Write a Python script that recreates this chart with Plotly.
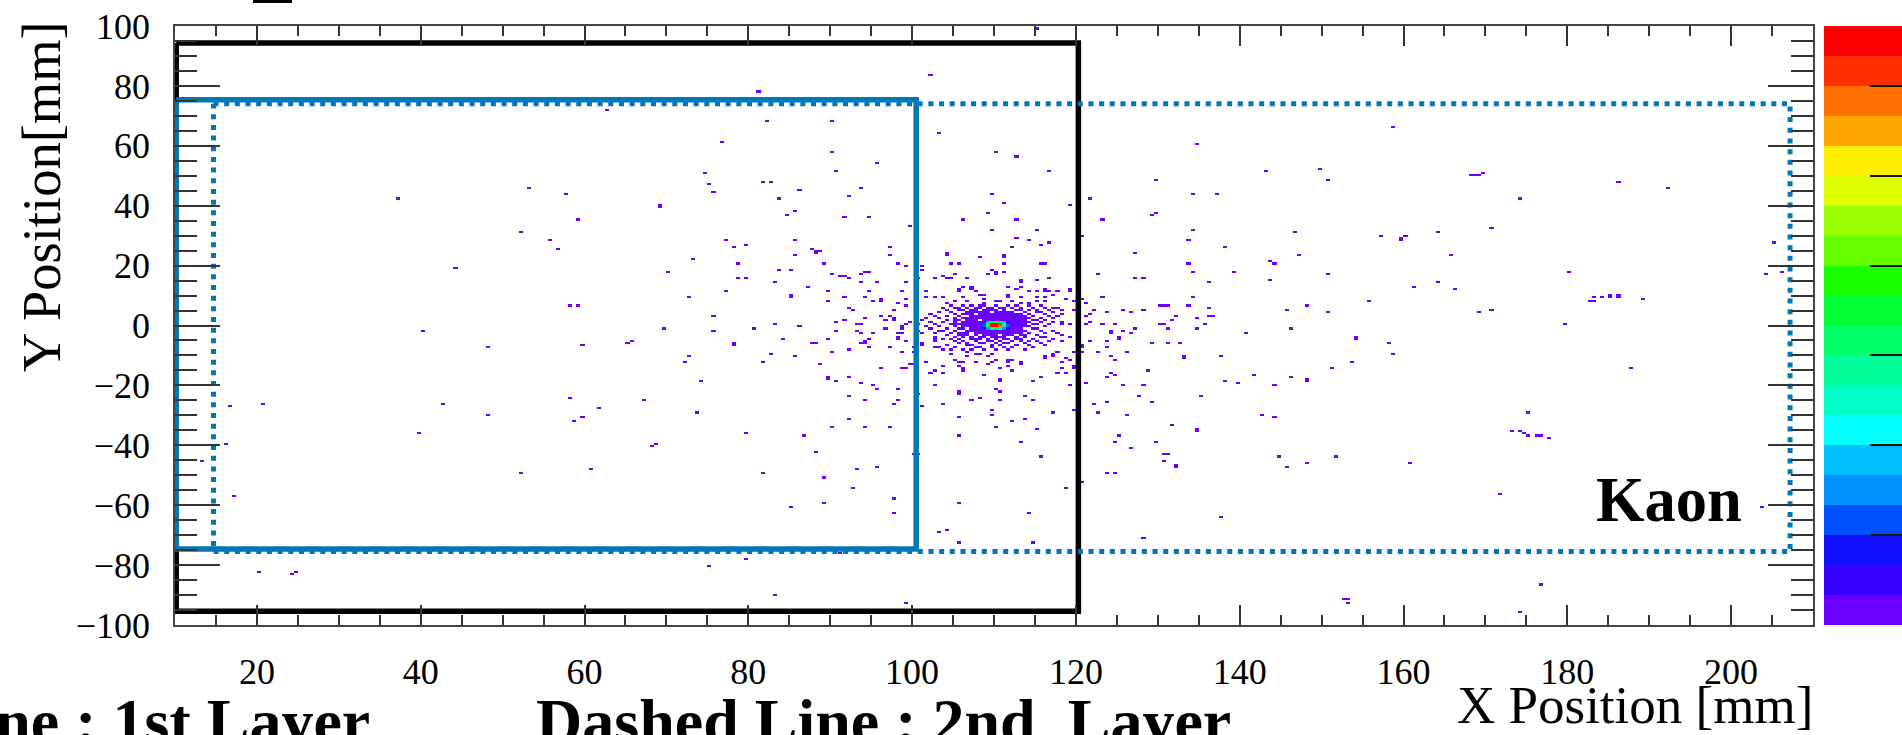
import numpy as np
import plotly.graph_objects as go

# ---- histogram binning and axes ----
x_edges_start, x_bin, x_count = 10.0, 0.5, 400
y_edges_start, y_bin, y_count = -100.0, 0.7, 286
x_ticks = [20, 40, 60, 80, 100, 120, 140, 160, 180, 200]
y_ticks = [-100, -80, -60, -40, -20, 0, 20, 40, 60, 80, 100]

# ---- single hits (x mm, y mm) ----
left_hits = [
 (62.7,71.6),(53.3,46.0),(57.7,44.1),(37.2,42.1),(69.2,40.0),(69.2,39.3),(59.3,35.3),(52.2,31.0),(55.7,28.7),(56.7,25.8),
 (73.2,22.3),(44.3,19.0),(70.2,18.0),(72.7,9.3),(58.2,6.4),(59.3,6.4),(81,78.4),(115.3,99),(102.2,83.7),
 (40.2,-1.7),(69.7,-0.9),(48.2,-7.6),(59.7,-6.6),(65.3,-5.6),(65.8,-5.1),(72.7,-10),(72.1,-12.4),(58.2,-24),(67.2,-24.4),
 (42.7,-26.4),(20.7,-25.9),(16.8,-26.9),(48.2,-29.8),(61.8,-27.3),(59.7,-30.2),(58.8,-31.8),(73.8,-29.3),(39.7,-36.1),
 (16.2,-39.5),(68.3,-39.9),(68.7,-39.5),(13.3,-44.8),(52.2,-49.6),(60.7,-48.1),(17.3,-56.8),(20.3,-82.4),(24.2,-82.9),(24.7,-82.4),
]
upper_mid_hits = [
 (82.2,68.1),(90.2,68.1),(103.2,64.4),(76.7,61.5),(90.2,58.0),(110.3,57.6),(112.8,56.1),(95.8,54.2),(90.7,51.8),(116.8,51.3),
 (74.7,50.9),(75.2,47.4),(81.7,48.3),(82.8,48.0),(129.7,48.9),(75.7,44.5),(86.3,45.5),(93.7,46),(83.7,42.1),(92.3,43.1),
 (109.8,44.1),(111.3,41.2),(121.8,42.7),(119.3,40.7),(85.8,38.3),(84.7,36.9),(91.8,36.3),(94.7,35.9),(109.2,37.8),(106.3,35.4),
 (112.8,35.4),(129.7,37.3),(129.3,36.9),(123.3,35.4),(99.7,33.4),(109.8,32),(115.2,32),(120.7,29.6),(77.3,28.6),(85.8,28.2),
 (112.8,29.1),(114.3,28.6),(78.2,26.3),(79.8,26.7),(87.7,25.7),(88.3,25),(88.3,24.3),(88.8,25),(97.2,26.6),(115.8,27.2),(116.8,27.6),
 (112.2,26.6),(133.7,28.6),(73.2,22.4),(85.8,23.3),(97.2,23.7),(104.3,24.1),(104.3,23.4),(108.3,22.8),(111.3,23.7),(111.3,22.8),
 (127.2,24.3),(78.7,21),(89.3,20.4),(98.3,21),(99.3,20),(101.2,20),(104.8,20.4),(105.7,20.4),(111.3,20.4),(115.8,21),(116.3,21),
 (133.7,20.4),(83.7,18.9),(85.3,18.9),(101.2,18.5),(109.8,18.9),(94.3,18),(94.8,18),(90.2,17.5),(91.3,16.6),(91.8,16.6),(93.7,17.1),
 (109.2,17.5),(110.3,17.8),(110.3,17.1),(111.3,18),(122.8,17.5),(78.7,16.1),(79.8,15.6),(92.3,15.6),(93.7,14.6),(100.8,16),
 (103.8,16.6),(105.2,17.5),(102.7,15.6),(104.3,15.6),(104.8,15.6),(106.7,15.6),(113.3,15.3),(113.3,14.6),(115.2,15.2),(116.8,16),
 (127.2,16),(128.3,15.6),(83.3,14.2),(87.2,13.2),(95.8,14.2),(99.3,14.2),(77.3,11.7),(85.3,10.5),(85.3,9.8),(89.7,11.3),(91.8,9.8),
 (94.2,9.8),(94.7,11.3),(98.8,11.7),(96.2,9),(96.2,8.3),(99.3,8.8),(72.9,9.4),(89.7,8.4),(95.3,7.8),(98.3,7.4),(99.3,6.9),
 (92.3,5.9),(92.7,5.5),(97.8,5.5),(75.7,3),(96.2,3.5),(97.2,3.5),(97.7,2.8),(97.7,2.1),(96.7,2),(94.2,2.6),(91.8,2),(90.7,1.1),
 (93.2,0.6),(93.7,0.6),(83.3,0.6),(99.7,1.1),(99.3,0.6),(98.8,-0.5),(98.8,-1.2),(86.3,-0.4),(80.7,-0.9),(96.7,-0.9),
 (106.3,13.2),(107.3,13),(107.3,12.3),(105.7,12.5),(105.7,11.8),(107.9,11.3),(108.3,10.5),(108.8,10.5),(108.5,9),(111.7,10.5),(111.7,9.8),
 (111.7,13.2),(113.3,13.2),(112.8,12.3),(116.3,12.6),(119.3,12.2),(119.3,11.3),(114.3,11.3),(115.2,11.3),(116.3,11.3),(116.6,11.3),
 (117.7,11.3),(117.2,10.5),(115.2,9.8),(116.3,9.8),(113.3,9.8),(101.8,11.7),(102.7,9.4),(101.8,9.4),(103.8,9.8),(106.3,9.8),
 (118.8,8.8),(119.8,8.4),(123.3,9.8),(121.2,7.4),(120.7,8.6),(104.3,7.4),(105.2,7.8),(106.7,8.4),(108.7,7.5),(110.3,7.8),(110.8,8.4),
 (112.2,7.8),(113.3,7.4),(114.3,7.6),(115.2,8.4),(116.3,8.4),(122.3,5.5),(123.7,4.9),(125.8,5.5),(126.7,4.9),(128.3,5.5),(130.3,6.4),
 (130.8,6.4),(131.3,6.4),(133.7,6.9),(132.3,3.5),(131.8,1.6),(130.3,0.6),(130.8,0.6),(131.3,-0.9),(127.2,-1.3),(124.7,0.1),(123.3,0.6),
 (121.8,1.1),(121.8,3.9),(121.2,3),(121.3,0.1),(117.7,5.9),(117.7,3),(118.3,1),(118.3,0.3),(119.3,0.6),(119.8,5.3),
]
lower_mid_hits = [
 (75.7,-1.7),(90.7,-1.7),(93.2,-1.7),(93.7,-2.7),(95.3,-2.7),(98.3,-2.7),(98.8,-2.7),(98.3,-3.8),(98.3,-4.5),(78.2,-5.9),(78.2,-6.6),
 (84.2,-4.7),(87.7,-5.6),(88.2,-5.6),(89.7,-4.7),(94.8,-4.7),(94.2,-5.2),(93.8,-6.1),(94.3,-6.1),(99.3,-5.2),(92.3,-8.1),(90.2,-8.5),
 (94.8,-7.5),(97.2,-7.5),(98.8,-9),(100.2,-7.2),(100.2,-8.5),(82.7,-9.5),(85.8,-10),(72.9,-10),(81.7,-12.4),(88.8,-12.9),(99.5,-12.9),
 (100,-12.9),(98.7,-13.9),(99.2,-13.9),(96.2,-14.3),(89.7,-17),(89.7,-17.7),(92.3,-16.8),(74.3,-18.7),(90.7,-18.7),(93.7,-19.1),
 (95.3,-20.1),(95.8,-21.5),(98.3,-21.1),(92.3,-23.4),(94.2,-25),(98.3,-25),(97.8,-25.9),(73.8,-29.3),(92.3,-31.2),(90.2,-34.1),
 (94.2,-34.1),(97.2,-34.1),(79.8,-36.1),(86.8,-36.6),(88.3,-42.4),(93.2,-48.1),(95.8,-47.1),(81.7,-49.6),(89.3,-51),(92.7,-53.9),
 (89.3,-58.8),(97.8,-57.8),(85.3,-60.2),(97.8,-62.5),(100.3,-42.8),(100.8,-42.8),(101.3,-2.7),(101.3,-5.9),(101.3,-6.6),(103.2,-2),
 (104,-3.1),(103.8,-4.7),(102.8,-4.7),(102.8,-5.4),(102.7,-7.2),(103.2,-7.5),(103.8,-8.1),(104.8,-9.5),(106.7,-10),(107.8,-9.5),
 (108.3,-9.5),(109.7,-9.4),(109.1,-10),(106.8,-9),(105.4,-11.4),(105.8,-11.9),(106.3,-11.9),(107.8,-12.4),(109.2,-12.9),(109.7,-11.9),
 (110.3,-11.4),(111.7,-11.6),(111.7,-12.3),(112.2,-11.4),(113.3,-12.6),(113.3,-11.9),(116.3,-10),(116.3,-11),(117.7,-8.5),(117.2,-9.2),
 (117.2,-9.9),(118.8,-11),(119.3,-11.4),(118.3,-12.4),(118.3,-14.3),(117.7,-15.8),(118.8,-15.8),(119.8,-13.4),(119.8,-14.3),(101.8,-12.4),
 (103.8,-13.4),(105.7,-13.4),(106.3,-13.9),(106.3,-14.8),(102.7,-14.8),(102.3,-15.8),(103.8,-15.8),(108.7,-16.2),(110.8,-14.3),
 (111.7,-13.4),(112.2,-15.3),(110.8,-18),(110.8,-18.7),(114.7,-18.7),(115.8,-17.2),(102.7,-20.1),(105.7,-22.2),(105.7,-22.9),(110.3,-21.5),
 (110.8,-22.1),(119.3,-19.7),(121.2,-19.1),(100.9,-23),(101.3,-26.9),(103.8,-25.9),(107.3,-25),(108.3,-24),(110.8,-24.4),(113.8,-23.4),
 (114.7,-25),(109.8,-28.3),(109.8,-29.8),(105.7,-30.2),(112.2,-31.7),(113.8,-31.2),(117.2,-29.3),(119.8,-28.3),(110.3,-33.7),(115.2,-34.6),
 (105.7,-36.6),(113.3,-38.5),(115.8,-43.8),(118.8,-53.9),(120.7,-51.9),(105.7,-59.3),(114.3,-62.2),(104.3,-68.4),(103.2,-68.8),(128.3,-71.3),
 (105.5,-72.5),(114.5,-72.3),(99.4,-92.5),(83.4,-89.6),(79.7,-78.2),(75.3,-80.3),(93.2,-75.9),(91.3,-75.7),
 (120.7,-6.4),(120.7,-7.1),(119.8,-9),(120.7,-9),(121.8,-5.2),(122.8,-9),(123.7,-5.2),(123.7,-7.6),(124.2,-2),(124.2,-2.7),(125.3,-3.8),
 (125.3,-4.5),(125.8,-1.7),(126.7,-2.7),(124.2,-10),(124.8,-11.4),(126.2,-9),(129.2,-5.6),(131.3,-5.6),(132.7,-5.6),(133.2,-10.4),
 (128.8,-15.3),(124.2,-15.8),(124.8,-16.2),(123.7,-17.2),(125.8,-20.1),(128.3,-20.1),(127.7,-23.4),(122.3,-25.9),(123.7,-25.4),
 (129.2,-25.4),(122.8,-29.3),(126.2,-29.8),(131.8,-33.1),(125.3,-36.6),(124.8,-38.5),(129.7,-39),(126.7,-40.8),(130.7,-43.2),(131.3,-43.2),
 (130.8,-45.3),(132.3,-46.5),(132.3,-47.2),(123.7,-49),(124.8,-49),
]
right_hits = [
 (158.8,66.3),(134.8,60.9),(143.3,51.3),(149.8,52.2),(150.7,48.4),(169.7,50.9),(168.7,50.3),(169.2,50.3),(168.2,49.9),(186.2,48),
 (192.2,45.6),(134.3,44),(137.3,44),(174.2,42.1),(134.3,32),(133.8,28.6),(146.8,31.5),(157.2,29.6),(159.7,29.1),(159.7,28.1),(160.2,29.6),
 (164.3,31.5),(170.8,32.5),(138.2,26.6),(147.2,23.3),(165.7,23.7),(205.2,27.6),(133.8,20.4),(143.8,21.4),(144.3,21),(134.3,18),(139.2,18),
 (150.7,17.5),(180.3,18),(204.3,17.1),(206.3,18),(136.2,14.6),(143.8,15),(164.3,14.6),(161.3,13.2),(166.2,12.6),(134.3,9.7),(155.8,7.8),
 (183.3,9.7),(184.2,9.7),(185.3,10.5),(185.3,9.8),(186.2,10.5),(186.2,9.8),(189.2,8.8),(182.8,8.4),(183.3,8.4),(133.8,6.9),(136.2,6),(148.2,6.4),
 (145.7,5),(150.7,4.5),(169.3,4.5),(170.8,5),(134.8,2.6),(136.2,3.1),(136.7,3.1),(135.7,0.6),(179.8,0.3),
 (134.8,-0.7),(132.8,-5.6),(140.8,-2.3),(146.3,-1.3),(154.2,-4),(154.2,-4.7),(158.3,-6.1),(158.8,-9.5),(133.2,-10.5),(137.8,-10),(153.7,-12),
 (151.2,-13.9),(187.7,-13.9),(141.7,-16.3),(146.3,-16.8),(148.2,-17.9),(148.2,-18.6),(138.2,-18.8),(139.7,-19.2),(144.3,-20.1),(135.3,-23.5),
 (142.7,-29.8),(144.3,-30.2),(175.2,-29.3),(134.8,-34.3),(134.8,-35),(173.3,-35.1),(174,-35.6),(174.7,-36),(175.3,-36.5),(176.3,-37),(176.8,-37),
 (177.5,-37.6),(144.7,-43.8),(145.7,-47.1),(148.2,-45.7),(151.8,-43.8),(160.8,-45.7),(171.7,-56.4),(137.8,-64),(203.8,-60.2),(176.8,-86.2),
 (152.5,-91.5),(153,-91.5),(153.2,-92.5),(174.2,-95.4),
]
# ---- crowded rows around the beam spot: y of the row, then x of each hit ----
core_rows = [
 (6.5,[104.5,106,107,108,108.5,110,111.5,112.5,114,115.5]),
 (5.8,[103.5,105,105.5,106.5,107.5,108,109,109.5,110.5,111,112,113,114.5,116,117]),
 (5.1,[104,105.5,106,107,107.5,108.5,109,109.5,110,111,112.5,113,114,115,116.5,118]),
 (4.4,[103,104.5,106.5,107,107.5,108,108.5,109,110,110.5,111,111.5,112,113.5,115,115.5,117]),
 (3.7,[102,105,106,106.5,107,108,108.5,109,109.5,110,110.5,111,111.5,112,112.5,113,114,116,118]),
 (3.0,[102.5,104,105.5,107,107.5,108,108.5,109,109.5,110,110.5,111,111.5,112,112.5,113,113.5,114.5,116.5]),
 (2.3,[101.5,103,105,106,106.5,107,107.5,108,108.5,109,109.5,110,110.5,111,111.5,112,112.5,113,113.5,114,115.5,117]),
 (1.6,[101,104,105,105.5,106.5,107,107.5,108.5,109,109.5,110,110.5,111,111.5,112,112.5,113,113.5,114.5,115,116]),
 (0.9,[102,103.5,105,106,106.5,107,107.5,108,112,112.5,113,113.5,114,115.5,117]),
 (0.2,[100.8,102.5,104.5,105,105.5,106,106.5,107,107.5,108,112,112.5,113,113.5,114.5,115,116.5]),
 (-0.5,[101.5,103,105,106,106.5,107,107.5,108,112,112.5,113,113.5,114,116]),
 (-1.2,[102,104,105.5,106,107,107.5,108,112,112.5,113,114.5,115]),
 (-1.9,[100.8,103.5,105,106.5,107,107.5,108,108.5,109,109.5,110,110.5,111,111.5,112,112.5,113,113.5,115.5,117]),
 (-2.6,[102.5,104.5,105.5,106,106.5,107.5,108,108.5,109,109.5,110,110.5,111,111.5,112,112.5,113,114,116,117.5]),
 (-3.3,[104,105.5,106,106.5,107.5,108.5,109,109.5,110,111,111.5,112,113,113.5,115,118]),
 (-4.0,[102.5,105,106,107,108,108.5,109.5,110,110.5,111,112.5,113.5,115.5,116,119]),
 (-4.7,[103.5,104.5,105.5,107,107.5,108,109,110,111,111.5,112.5,113,114.5,117]),
 (-5.4,[105,106,107.5,109,109.5,110.5,112,113,114,115,116.5,118]),
 (-6.1,[105.5,106.5,108,108.5,110,111,111.5,113.5,115.5]),
 (-6.8,[104,106.5,107,109.5,110.5,112.5,114,116]),
 (-7.5,[105,107.5,108,109.5,111,112,114.5]),
 (-8.2,[104.5,106,107,108.5,110,111.5,113.5]),
]
# ---- the peak, on the colour-level scale (x, y, z) ----
peak_x = [108.5, 109.0, 109.5, 110.0, 110.5, 111.0, 111.5]
peak_rows = [
 (1.0,  [1.5, 5, 9, 11, 9, 5, 2]),
 (0.35, [3, 10, 19, 19.5, 18, 8, 3]),
 (-0.35,[3, 9, 19, 19, 17, 8, 3]),
 (-1.0, [1.5, 4, 8, 10, 8, 4, 2]),
]

# ---- colour levels, bottom to top ----
level_colors = ["#6a00ff","#3a00ff","#1010ff","#0050ff","#0090ff","#00bfff","#00ffff","#00ffc8","#00ff99","#00ff66",
                "#00ff33","#1aff00","#66ff00","#99ff00","#ddff00","#ffee00","#ffa600","#ff7000","#ff3000","#ff0000"]
z_ticks = [0, 3, 6, 9, 12, 15, 18]

# ---- detector outlines (mm) ----
layer_black_x = [10.15, 120.3, 120.3, 10.15, 10.15]
layer_black_y = [94.3, 94.3, -95.4, -95.4, 94.3]
layer1_x = [10.15, 100.5, 100.5, 10.15, 10.15]
layer1_y = [75.4, 75.4, -74.6, -74.6, 75.4]
layer2_x = [14.7, 207.2, 207.2, 14.7, 14.7]
layer2_y = [74.0, 74.0, -75.5, -75.5, 74.0]

z = np.full((y_count, x_count), np.nan)
def put(xv, yv, val):
    i = int((xv - x_edges_start) // x_bin)
    j = int((yv - y_edges_start) // y_bin)
    if 0 <= i < x_count and 0 <= j < y_count:
        z[j, i] = val
for group in (left_hits, upper_mid_hits, lower_mid_hits, right_hits):
    for xv, yv in group:
        put(xv, yv, 0.5)
for yv, xs in core_rows:
    for xv in xs:
        put(xv + 0.1, yv, 0.5)
for yv, zs in peak_rows:
    for xv, zv in zip(peak_x, zs):
        put(xv + 0.1, yv, zv)

n = len(level_colors)
colorscale = []
for k, c in enumerate(level_colors):
    colorscale += [[k / n, c], [(k + 1) / n, c]]

SERIF = "Liberation Serif"
W, H = 1902, 735
L, R, T, B = 175, 1813, 26, 625
def px(p): return p / W
def py(p): return (H - p) / H

fig = go.Figure()
fig.add_trace(go.Heatmap(
    z=z.tolist(), x0=x_edges_start + x_bin / 2, dx=x_bin, y0=y_edges_start + y_bin / 2, dy=y_bin,
    zmin=0, zmax=20, colorscale=colorscale, hoverongaps=False, zsmooth=False,
    colorbar=dict(x=px(1824), xanchor="left", xpad=0, y=py(B), yanchor="bottom", ypad=0, len=(B - T) / H, lenmode="fraction",
                  thickness=78, thicknessmode="pixels", outlinewidth=0, borderwidth=0,
                  tickmode="array", tickvals=z_ticks, ticks="inside", ticklen=32, tickwidth=1.5, tickcolor="#111",
                  showticklabels=False),
))
BLUE = "#0077b9"
fig.add_trace(go.Scatter(x=layer_black_x, y=layer_black_y, mode="lines", line=dict(color="#000000", width=5.5), showlegend=False, hoverinfo="skip"))
fig.add_trace(go.Scatter(x=layer2_x, y=layer2_y, mode="lines", line=dict(color=BLUE, width=5, dash="5px,5.67px"), showlegend=False, hoverinfo="skip"))
fig.add_trace(go.Scatter(x=layer1_x, y=layer1_y, mode="lines", line=dict(color=BLUE, width=5.5), showlegend=False, hoverinfo="skip"))

axis_common = dict(showgrid=False, zeroline=False, showline=True, linecolor="#444444", linewidth=1.5, mirror="allticks",
                   ticks="inside", tickcolor="#333333", tickwidth=1.5, tickfont=dict(family=SERIF, size=36, color="#000000"))
fig.update_layout(
    width=W, height=H, autosize=False, margin=dict(l=0, r=0, t=0, b=0, pad=0, autoexpand=False),
    paper_bgcolor="#ffffff", plot_bgcolor="#ffffff", showlegend=False,
    xaxis=dict(domain=[L / W, R / W], range=[10, 210], tickmode="array", tickvals=x_ticks, ticklen=20, ticklabelstandoff=14,
               minor=dict(dtick=5, tick0=0, ticks="inside", ticklen=10, tickcolor="#333333", tickwidth=1.5), **axis_common),
    yaxis=dict(domain=[py(B), py(T)], range=[-100, 100], tickmode="array", tickvals=y_ticks, ticklen=45, ticklabelstandoff=16,
               minor=dict(dtick=5, tick0=0, ticks="inside", ticklen=22, tickcolor="#333333", tickwidth=1.5), **axis_common),
    shapes=[dict(type="rect", xref="paper", yref="paper", x0=px(253), x1=px(292), y0=py(3), y1=py(0),
                 fillcolor="#000000", line_width=0)],
    annotations=[
        dict(text="Y Position[mm]", xref="paper", yref="paper", x=px(41), y=py(197), textangle=-90, showarrow=False,
             font=dict(family=SERIF, size=54.5, color="#000000"), xanchor="center", yanchor="middle"),
        dict(text="X Position [mm]", xref="paper", yref="paper", x=px(1815), y=py(705), showarrow=False,
             font=dict(family=SERIF, size=53, color="#000000"), xanchor="right", yanchor="middle"),
        dict(text="Kaon", xref="paper", yref="paper", x=px(1744), y=py(500), showarrow=False,
             font=dict(family=SERIF, size=62.5, color="#000000", weight="bold"), xanchor="right", yanchor="middle"),
        dict(text="Solid Line : 1st Layer", xref="paper", yref="paper", x=px(372), y=py(721), showarrow=False,
             font=dict(family=SERIF, size=64, color="#000000", weight="bold"), xanchor="right", yanchor="middle"),
        dict(text="Dashed Line : 2nd  Layer", xref="paper", yref="paper", x=px(534), y=py(721), showarrow=False,
             font=dict(family=SERIF, size=64, color="#000000", weight="bold"), xanchor="left", yanchor="middle"),
    ],
)
fig.write_html("out.html", config={"displayModeBar": False},
               post_script="document.body.style.margin='0';document.body.style.overflow='hidden';")
